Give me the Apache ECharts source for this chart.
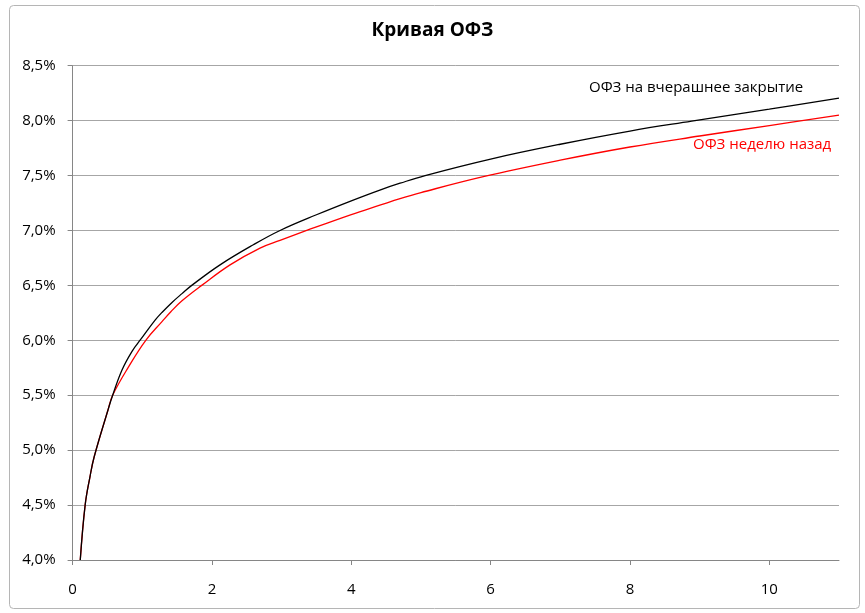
<!DOCTYPE html>
<html><head><meta charset="utf-8">
<script src="https://cdn.jsdelivr.net/npm/echarts@6/dist/echarts.min.js"></script>
<style>html,body{margin:0;padding:0;background:#fff}#c{width:865px;height:613px}</style>
</head><body><div id="c"></div>
<script>
const title = 'Кривая ОФЗ';
const nameYesterday = 'ОФЗ на вчерашнее закрытие';
const nameWeekAgo = 'ОФЗ неделю назад';
const xTicks = [0, 2, 4, 6, 8, 10];
const maturitiesYesterday = [0.11, 0.18, 0.25, 0.31, 0.508, 0.575, 0.709, 0.853, 0.98, 1.187, 1.30, 1.427, 1.57, 1.71, 2.116, 2.594, 2.977, 3.5, 4.0, 4.41, 4.7, 5.06, 6.0, 7.0, 8.0, 8.886, 10.0, 11.0];
const yieldsYesterday   = [4.00, 4.50, 4.76, 4.94, 5.366, 5.50, 5.73, 5.90, 6.01, 6.186, 6.265, 6.345, 6.425, 6.50, 6.687, 6.87, 7.00, 7.143, 7.27, 7.368, 7.43, 7.50, 7.65, 7.785, 7.905, 7.995, 8.105, 8.205];
const maturitiesWeekAgo = [0.11, 0.18, 0.25, 0.31, 0.508, 0.575, 0.805, 1.05, 1.283, 1.41, 1.57, 1.853, 2.26, 2.69, 2.977, 3.36, 4.0, 4.41, 4.7, 5.0, 5.895, 7.0, 8.0, 9.0, 10.0, 11.0];
const yieldsWeekAgo     = [4.00, 4.50, 4.76, 4.94, 5.366, 5.50, 5.76, 6.00, 6.17, 6.26, 6.36, 6.50, 6.687, 6.84, 6.91, 7.00, 7.145, 7.23, 7.29, 7.345, 7.49, 7.64, 7.76, 7.86, 7.955, 8.05];

const pairs = (xs, ys) => xs.map((x, i) => [x, ys[i]]);
const FONT = 'Open Sans';
const chart = echarts.init(document.getElementById('c'), null, {renderer: 'canvas'});
chart.setOption({
  animation: false,
  backgroundColor: '#fff',
  textStyle: {fontFamily: FONT},
  title: {text: title, left: 'center', top: 16,
    textStyle: {fontFamily: FONT, fontSize: 19, fontWeight: 'bold', color: '#000'}},
  grid: {left: 72.6, right: 26, top: 65.7, bottom: 53, containLabel: false},
  xAxis: {type: 'value', min: 0, max: 11,
    axisLine: {show: true, lineStyle: {color: '#868686', width: 1}},
    axisTick: {show: true, inside: false, length: 5, customValues: xTicks, lineStyle: {color: '#868686'}},
    axisLabel: {customValues: xTicks, color: '#000', fontSize: 15, margin: 22, fontFamily: FONT},
    splitLine: {show: false}},
  yAxis: {type: 'value', min: 4, max: 8.5, interval: 0.5,
    axisLine: {show: true, lineStyle: {color: '#868686', width: 1}},
    axisTick: {show: true, length: 5, lineStyle: {color: '#868686'}},
    axisLabel: {color: '#000', fontSize: 15, margin: 17, fontFamily: FONT,
      formatter: v => v.toFixed(1).replace('.', ',') + '%'},
    splitLine: {show: true, lineStyle: {color: '#a6a6a6', width: 1}}},
  series: [
    {name: nameYesterday, type: 'line', data: pairs(maturitiesYesterday, yieldsYesterday),
      smooth: 0.4, showSymbol: false, lineStyle: {color: '#000', width: 1.3}, z: 3},
    {name: nameWeekAgo, type: 'line', data: pairs(maturitiesWeekAgo, yieldsWeekAgo),
      smooth: 0.4, showSymbol: false, lineStyle: {color: '#ff0000', width: 1.3}, z: 2}
  ],
  graphic: [
    {type: 'rect', shape: {x: 9.5, y: 5.5, width: 850, height: 603, r: 4}, silent: true,
      style: {fill: null, stroke: '#b5b5b5', lineWidth: 1}, z: -10},
    {type: 'text', left: 589, top: 80, silent: true,
      style: {text: nameYesterday, fill: '#000', font: '15px "Open Sans"'}},
    {type: 'text', left: 693, top: 137, silent: true,
      style: {text: nameWeekAgo, fill: '#ff0000', font: '15px "Open Sans"'}}
  ]
});
</script></body></html>
